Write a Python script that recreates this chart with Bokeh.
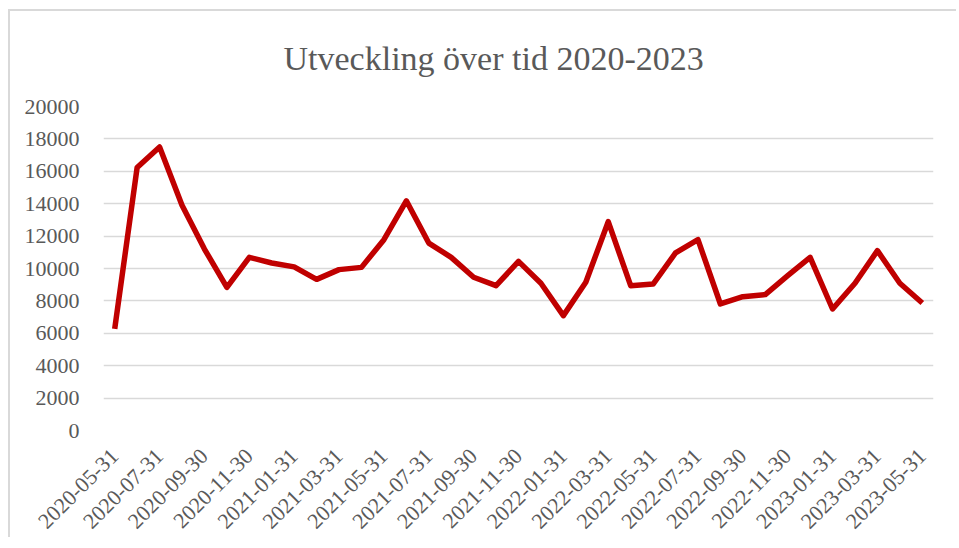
import math
from bokeh.plotting import figure
from bokeh.models import Range1d, FixedTicker, ColumnDataSource
from bokeh.embed import file_html
from bokeh.resources import INLINE

dates = ["2020-05-31", "2020-06-30", "2020-07-31", "2020-08-31", "2020-09-30", "2020-10-31",
         "2020-11-30", "2020-12-31", "2021-01-31", "2021-02-28", "2021-03-31", "2021-04-30",
         "2021-05-31", "2021-06-30", "2021-07-31", "2021-08-31", "2021-09-30", "2021-10-31",
         "2021-11-30", "2021-12-31", "2022-01-31", "2022-02-28", "2022-03-31", "2022-04-30",
         "2022-05-31", "2022-06-30", "2022-07-31", "2022-08-31", "2022-09-30", "2022-10-31",
         "2022-11-30", "2022-12-31", "2023-01-31", "2023-02-28", "2023-03-31", "2023-04-30",
         "2023-05-31"]
values = [6270, 16240, 17500, 13900, 11200, 8840, 10690, 10340, 10100, 9330, 9930, 10070,
          11780, 14180, 11570, 10690, 9460, 8940, 10440, 9090, 7090, 9150, 12890, 8940,
          9040, 10960, 11780, 7810, 8260, 8390, 9560, 10690, 7500, 9090, 11100, 9090, 7870]
y_ticks = list(range(0, 20001, 2000))
title_text = "Utveckling över tid 2020-2023"

idx = list(range(len(dates)))
src = ColumnDataSource(dict(x=idx, y=values))

FONT = "Liberation Serif"
GREY = "#595959"

p = figure(width=948, height=528, output_backend="svg", toolbar_location=None,
           x_range=Range1d(-0.5, len(dates) - 0.5), y_range=Range1d(0, 20000),
           min_border_left=93, min_border_right=25, min_border_top=60, min_border_bottom=109,
           title=title_text,
           styles={"border-top": "2px solid #d9d9d9", "border-left": "2px solid #d9d9d9",
                   "margin-top": "9px", "margin-left": "8px"})

p.line("x", "y", source=src, line_color="#c00000", line_width=5.5, line_join="round")

p.title.text_font = FONT
p.title.text_font_size = "34px"
p.title.text_font_style = "normal"
p.title.text_color = GREY
p.title.align = "left"
p.title.offset = 180
p.title.vertical_align = "top"
p.title.standoff = 56

p.outline_line_color = None
p.xgrid.grid_line_color = None
p.ygrid.grid_line_color = "#d9d9d9"
p.ygrid.grid_line_width = 1.5

p.yaxis.ticker = FixedTicker(ticks=y_ticks)
p.xaxis.ticker = FixedTicker(ticks=idx[::2])
p.xaxis.major_label_overrides = {i: dates[i] for i in idx[::2]}
p.xaxis.major_label_orientation = math.pi / 4

for ax in (p.xaxis, p.yaxis):
    ax.axis_line_color = None
    ax.major_tick_line_color = None
    ax.minor_tick_line_color = None
    ax.major_label_text_font = FONT
    ax.major_label_text_font_size = "22px"
    ax.major_label_text_color = GREY
p.yaxis.major_label_standoff = 18
p.xaxis.major_label_standoff = 16

open("out.html", "w").write(file_html(p, INLINE))
